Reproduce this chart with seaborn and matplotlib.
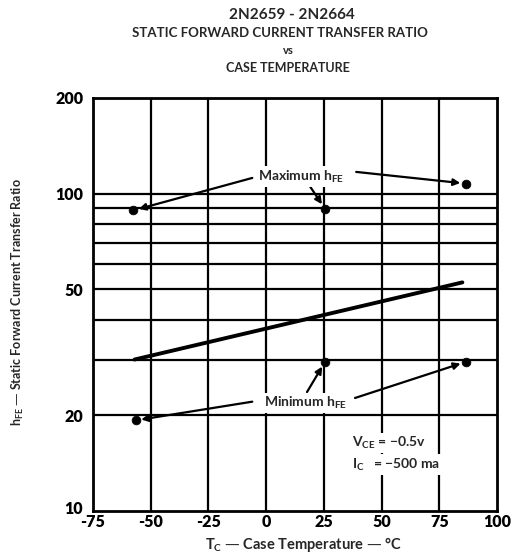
import matplotlib
matplotlib.use("Agg")
import matplotlib.pyplot as plt
import matplotlib.transforms as mtransforms
import seaborn as sns
import pandas as pd
from matplotlib.ticker import FixedLocator, NullLocator, NullFormatter

sns.set_theme(style="white")
plt.rcParams['font.family'] = ['Lato', 'DejaVu Sans']

# Data
trend_temp = [-57, 85]
trend_hfe = [30, 52.5]
max_temp = [-57.5, 25.5, 86.5]
max_hfe = [88.5, 89.5, 107.5]
min_temp = [-56.5, 25.5, 86.5]
min_hfe = [19.3, 29.5, 29.5]
x_ticks = [-75, -50, -25, 0, 25, 50, 75, 100]
y_ticks = [10, 20, 50, 100, 200]
y_grid = [20, 30, 40, 50, 60, 70, 80, 90, 100]

fig = plt.figure(figsize=(5.12, 5.56), dpi=100)
ax = fig.add_axes([93/512, 1-511/556, (497-93)/512, (511-98)/556])

ax.set_yscale('log')
ax.set_xlim(-75, 100)
ax.set_ylim(10, 200)

# grid
for gx in x_ticks[1:-1]:
    ax.axvline(gx, color='black', lw=1.6, zorder=1)
for gy in y_grid:
    ax.axhline(gy, color='black', lw=1.6, zorder=1)

trend = pd.DataFrame({'temp': trend_temp, 'hfe': trend_hfe})
sns.lineplot(data=trend, x='temp', y='hfe', ax=ax, color='black', lw=2.8, zorder=3)
pts = pd.DataFrame({'temp': max_temp + min_temp, 'hfe': max_hfe + min_hfe})
sns.scatterplot(data=pts, x='temp', y='hfe', ax=ax, color='black', s=40, edgecolor='black', zorder=4)

for s in ax.spines.values():
    s.set_color('black')
    s.set_linewidth(2)

ax.xaxis.set_major_locator(FixedLocator(x_ticks))
ax.yaxis.set_major_locator(FixedLocator(y_ticks))
ax.yaxis.set_minor_locator(NullLocator())
ax.yaxis.set_minor_formatter(NullFormatter())
ax.set_xticklabels([str(t) if t >= 0 else '-' + str(-t) for t in x_ticks])
ax.set_yticklabels([str(t) for t in y_ticks])
ax.tick_params(axis='x', length=0, labelsize=11.5, pad=2, colors='black')
ax.tick_params(axis='y', length=0, labelsize=11.5, pad=7, colors='black')
for lab in ax.get_xticklabels() + ax.get_yticklabels():
    lab.set_fontweight('heavy')
ylabs = ax.get_yticklabels()
ylabs[0].set_transform(ylabs[0].get_transform() +
                       mtransforms.ScaledTranslation(0, 4/100, fig.dpi_scale_trans))
ax.set_xlabel('')
ax.set_ylabel('')

fs = 9.5
fw = 'bold'
bb = dict(facecolor='white', edgecolor='none', pad=1.5)
# titles
fig.text(292/512, 1-15/556, '2N2659 - 2N2664', ha='center', va='center', fontsize=11, fontweight=fw)
fig.text(280/512, 1-33/556, 'STATIC FORWARD CURRENT TRANSFER RATIO', ha='center', va='center', fontsize=fs, fontweight=fw)
fig.text(288/512, 1-50/556, 'vs', ha='center', va='center', fontsize=fs-1.5, fontweight=fw)
fig.text(288/512, 1-68/556, 'CASE TEMPERATURE', ha='center', va='center', fontsize=9, fontweight=fw)
fig.text(18/512, 1-302/556, r'h$_{\mathregular{FE}}$ — Static Forward Current Transfer Ratio', rotation=90,
         ha='center', va='center', fontsize=9, fontweight=fw)
fig.text(303/512, 1-545/556, r'T$_{\mathregular{C}}$ — Case Temperature — °C', ha='center', va='center',
         fontsize=10.5, fontweight=fw)

# annotations
arrow = dict(arrowstyle='-|>', color='black', lw=1.6, mutation_scale=10, shrinkA=0, shrinkB=4)
ax.text(15, 113, r'Maximum h$_{\mathregular{FE}}$', ha='center', va='center', fontsize=10, fontweight=fw,
        bbox=bb, zorder=5)
ax.annotate('', xy=(max_temp[0], max_hfe[0]), xytext=(-6, 112), arrowprops=arrow)
ax.annotate('', xy=(max_temp[1], max_hfe[1]), xytext=(18, 108), arrowprops=arrow)
ax.annotate('', xy=(max_temp[2], max_hfe[2]), xytext=(39, 117), arrowprops=arrow)

ax.text(17, 21.9, r'Minimum h$_{\mathregular{FE}}$', ha='center', va='center', fontsize=10, fontweight=fw,
        bbox=bb, zorder=5)
ax.annotate('', xy=(min_temp[0], min_hfe[0]), xytext=(-6, 22.1), arrowprops=arrow)
ax.annotate('', xy=(min_temp[1], min_hfe[1]), xytext=(17.7, 23.7), arrowprops=arrow)
ax.annotate('', xy=(min_temp[2], min_hfe[2]), xytext=(38.5, 22.7), arrowprops=arrow)

ax.text(37, 16.4, r'V$_{\mathregular{CE}}$ = −0.5v', ha='left', va='center', fontsize=10, fontweight=fw,
        bbox=bb, zorder=5)
ax.text(37, 14.0, r'I$_{\mathregular{C}}$   = −500 ma', ha='left', va='center', fontsize=10, fontweight=fw,
        bbox=bb, zorder=5)

fig.savefig('out.png', dpi=100, facecolor='white')
